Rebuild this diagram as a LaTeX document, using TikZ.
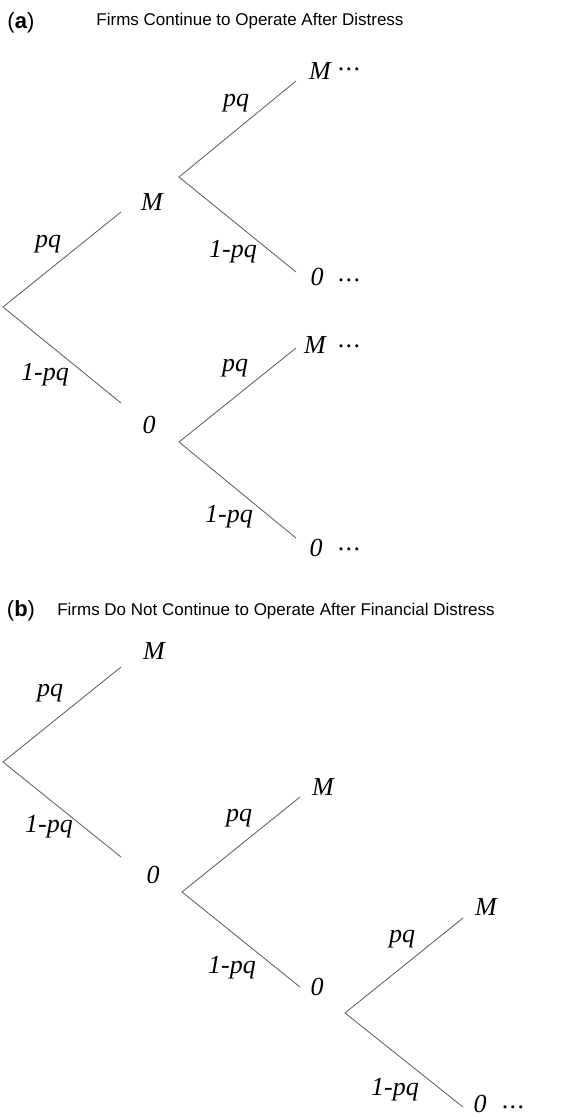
\documentclass[tikz,border=0pt]{standalone}
\usepackage{fontspec}
\setmainfont{Liberation Serif}
\setsansfont{Liberation Sans}
\newcommand{\mydots}{.\kern1.5pt.\kern1.5pt.}
\begin{document}
\begin{tikzpicture}[x=1pt,y=-1pt,
  lab/.style={inner sep=0pt,font=\fontsize{26}{26}\selectfont\itshape},
  dts/.style={inner sep=0pt,anchor=base,font=\fontsize{26}{26}\selectfont},
  ttl/.style={inner sep=0pt,font=\sffamily\fontsize{17}{18}\selectfont},
  pan/.style={inner sep=0pt,font=\sffamily\fontsize{22}{23}\selectfont},
  br/.style={draw=black!65,line width=0.8pt}]
\useasboundingbox (0,0) rectangle (571,1117);
% ---------- panel (a)
\node[pan] (pa) at (21,23) {(\textbf{a})};
\node[ttl] (ta) at (250,21) {Firms Continue to Operate After Distress};
\coordinate (a0) at (3,307);
\coordinate (a1u) at (121,212);
\coordinate (a1d) at (121,403);
\coordinate (b0) at (179,177);
\coordinate (b1u) at (296,81);
\coordinate (b1d) at (296,272);
\coordinate (c0) at (179,442);
\coordinate (c1u) at (296,348);
\coordinate (c1d) at (296,538);
\draw[br] (a1u) -- (a0) -- (a1d);
\draw[br] (b1u) -- (b0) -- (b1d);
\draw[br] (c1u) -- (c0) -- (c1d);
\node[lab] (aM) at (152,202) {M};
\node[lab] (apq) at (48,244) {pq};
\node[lab] (a1pq) at (45,375) {1-pq};
\node[lab] (a0l) at (149,425) {0};
\node[lab] (bM) at (320,71) {M};
\node[dts] (bMd) at (349,70) {\mydots};
\node[lab] (bpq) at (236,103) {pq};
\node[lab] (b1pq) at (233,252) {1-pq};
\node[lab] (b0l) at (317,277) {0};
\node[dts] (b0d) at (349,281) {\mydots};
\node[lab] (cM) at (315,345) {M};
\node[dts] (cMd) at (349,347) {\mydots};
\node[lab] (cpq) at (235,368) {pq};
\node[lab] (c1pq) at (229,517) {1-pq};
\node[lab] (c0l) at (316,548) {0};
\node[dts] (c0d) at (349,550) {\mydots};
% ---------- panel (b)
\node[pan] (pb) at (21,611) {(\textbf{b})};
\node[ttl] (tb) at (276,611) {Firms Do Not Continue to Operate After Financial Distress};
\coordinate (d0) at (3,762);
\coordinate (d1u) at (121,667);
\coordinate (d1d) at (121,857);
\coordinate (e0) at (182,892);
\coordinate (e1u) at (300,797);
\coordinate (e1d) at (300,987);
\coordinate (f0) at (345,1013);
\coordinate (f1u) at (463,918);
\coordinate (f1d) at (463,1107);
\draw[br] (d1u) -- (d0) -- (d1d);
\draw[br] (e1u) -- (e0) -- (e1d);
\draw[br] (f1u) -- (f0) -- (f1d);
\node[lab] (dM) at (154,651) {M};
\node[lab] (dpq) at (50,693) {pq};
\node[lab] (d1pq) at (49,827) {1-pq};
\node[lab] (d0l) at (153,875) {0};
\node[lab] (eM) at (323,787) {M};
\node[lab] (epq) at (239,818) {pq};
\node[lab] (e1pq) at (232,968) {1-pq};
\node[lab] (e0l) at (317,987) {0};
\node[lab] (fM) at (486,907) {M};
\node[lab] (fpq) at (402,939) {pq};
\node[lab] (f1pq) at (395,1090) {1-pq};
\node[lab] (f0l) at (480,1104) {0};
\node[dts] (f0d) at (513,1108) {\mydots};
\end{tikzpicture}
\end{document}
